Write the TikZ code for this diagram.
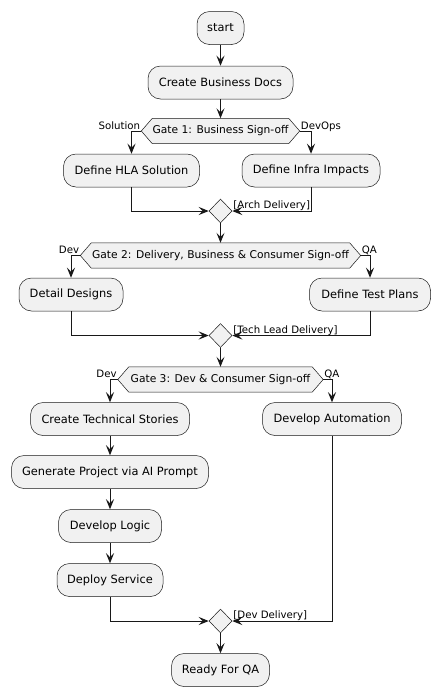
\documentclass[tikz,border=0pt]{standalone}
\usepackage{fontspec}
\setmainfont{DejaVu Sans}
\usetikzlibrary{arrows.meta,shapes.geometric,calc}
\definecolor{boxfill}{HTML}{F1F1F1}
\definecolor{lineclr}{HTML}{181818}
\pgfdeclarelayer{bg}
\pgfsetlayers{bg,main}
\newcommand{\hexpath}[1]{\begin{pgfonlayer}{bg}\draw[draw=lineclr,line width=0.5pt,fill=boxfill] (#1.west) -- ([xshift=11pt]#1.north west) -- ([xshift=-11pt]#1.north east) -- (#1.east) -- ([xshift=-11pt]#1.south east) -- ([xshift=11pt]#1.south west) -- cycle;\end{pgfonlayer}}
\begin{document}
\begin{tikzpicture}[x=1pt,y=-1pt,
  act/.style={draw=lineclr, line width=0.5pt, fill=boxfill, rounded corners=12.5pt, minimum height=33pt, inner sep=0pt, font=\fontsize{11.4}{13}\selectfont},
  gate/.style={minimum height=25pt, inner sep=0pt, font=\fontsize{10.7}{13}\selectfont},
  merge/.style={diamond, draw=lineclr, line width=0.5pt, fill=boxfill, minimum width=23pt, minimum height=24pt, inner sep=0pt},
  arr/.style={draw=lineclr, line width=1pt, -{Stealth[length=10pt,width=8pt,inset=4pt]}},
  lbl/.style={inner sep=0pt, font=\fontsize{10.2}{12}\selectfont},
]
\useasboundingbox (0,0) rectangle (440,697);

\node[act, minimum width=47pt] (start) at (220.5,28) {start};
\node[act, minimum width=145pt] (cbd) at (220.5,82.5) {Create Business Docs};
\node[gate, minimum width=158pt] (g1) at (220.5,131) {Gate 1: Business Sign-off};
\hexpath{g1}
\node[act, minimum width=136pt] (hla) at (131.5,170.5) {Define HLA Solution};
\node[act, minimum width=138pt] (infra) at (311,170.5) {Define Infra Impacts};
\node[merge] (m1) at (220.5,211) {};
\node[gate, minimum width=280pt] (g2) at (220.5,255.5) {Gate 2: Delivery, Business \& Consumer Sign-off};
\hexpath{g2}
\node[act, minimum width=104pt] (dd) at (71,294.5) {Detail Designs};
\node[act, minimum width=121pt] (tp) at (370,294.5) {Define Test Plans};
\node[merge] (m2) at (220.5,335.5) {};
\node[gate, minimum width=205pt] (g3) at (220.5,379.5) {Gate 3: Dev \& Consumer Sign-off};
\hexpath{g3}
\node[act, minimum width=159pt] (ts) at (110,419) {Create Technical Stories};
\node[act, minimum width=139pt] (da) at (332,419) {Develop Automation};
\node[act, minimum width=197pt] (gp) at (110,472) {Generate Project via AI Prompt};
\node[act, minimum width=103pt] (dl) at (110,526) {Develop Logic};
\node[act, minimum width=106pt] (ds) at (110,580) {Deploy Service};
\node[merge] (m3) at (220.5,621) {};
\node[act, minimum width=98pt] (qa) at (220.5,670) {Ready For QA};

\draw[arr] (start) -- (cbd);
\draw[arr] (cbd) -- (g1);
\draw[arr] (g1.west) -| (hla.north);
\draw[arr] (g1.east) -| (infra.north);
\draw[arr] (hla.south) |- (m1.west);
\draw[arr] (infra.south) |- (m1.east);
\draw[arr] (m1) -- (g2);
\draw[arr] (g2.west) -| (dd.north);
\draw[arr] (g2.east) -| (tp.north);
\draw[arr] (dd.south) |- (m2.west);
\draw[arr] (tp.south) |- (m2.east);
\draw[arr] (m2) -- (g3);
\draw[arr] (g3.west) -| (ts.north);
\draw[arr] (g3.east) -| (da.north);
\draw[arr] (ts) -- (gp);
\draw[arr] (gp) -- (dl);
\draw[arr] (dl) -- (ds);
\draw[arr] (ds.south) |- (m3.west);
\draw[arr] (da.south) |- (m3.east);
\draw[arr] (m3) -- (qa);

\node[lbl, anchor=base east] (l1a) at ([xshift=-1pt,yshift=2pt]g1.west) {Solution};
\node[lbl, anchor=base west] (l1b) at ([xshift=1pt,yshift=2pt]g1.east) {DevOps};
\node[lbl, anchor=base east] (l2a) at ([xshift=-1pt,yshift=2pt]g2.west) {Dev};
\node[lbl, anchor=base west] (l2b) at ([xshift=1pt,yshift=2pt]g2.east) {QA};
\node[lbl, anchor=base east] (l3a) at ([xshift=-1pt,yshift=2pt]g3.west) {Dev};
\node[lbl, anchor=base west] (l3b) at ([xshift=1pt,yshift=2pt]g3.east) {QA};
\node[lbl, anchor=base west] (lm1) at ([xshift=1pt,yshift=2.5pt]m1.east) {[Arch Delivery]};
\node[lbl, anchor=base west] (lm2) at ([xshift=1pt,yshift=2.5pt]m2.east) {[Tech Lead Delivery]};
\node[lbl, anchor=base west] (lm3) at ([xshift=1pt,yshift=2.5pt]m3.east) {[Dev Delivery]};
\end{tikzpicture}
\end{document}
